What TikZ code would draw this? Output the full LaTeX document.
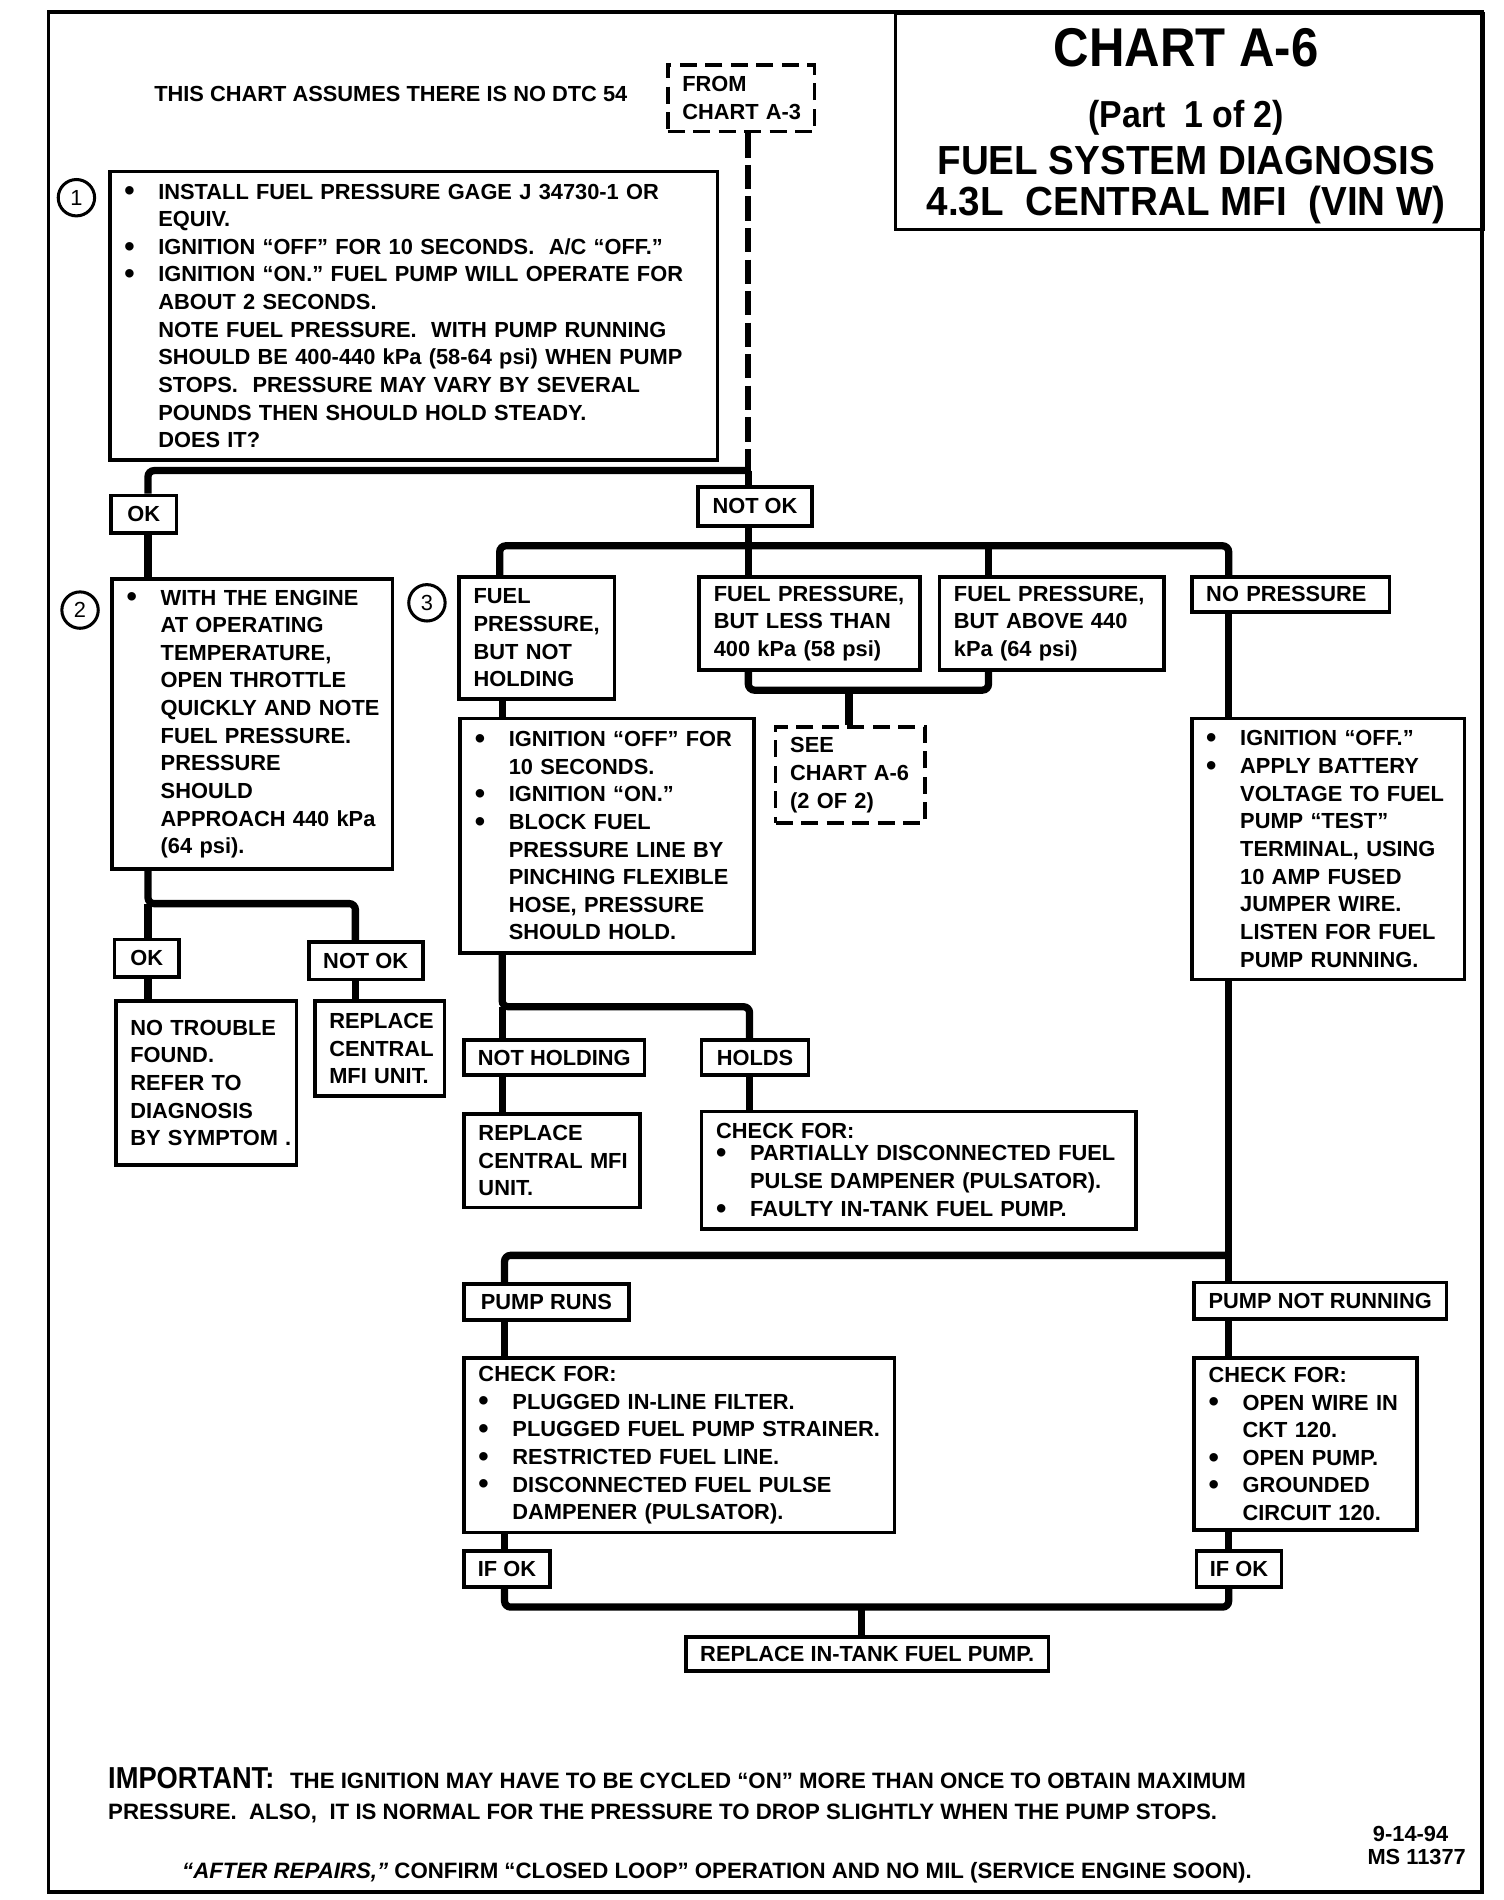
\documentclass[tikz,border=0pt]{standalone}
\usepackage{graphicx}
\usepackage{fontspec}
\setmainfont{Liberation Sans}
\newfontfamily\condfont{Liberation Sans}[FakeStretch=0.9]
\newfontfamily\condfontB{Liberation Sans}[FakeStretch=0.95]
\usetikzlibrary{calc}

\newcommand\bodyfont{\fontsize{18}{22.8}\selectfont\bfseries}
\newcommand\footfont{\fontsize{18.35}{22.8}\selectfont\bfseries}
\newcommand\bul{\makebox[28pt][l]{\raisebox{-1.5pt}{\scalebox{1.35}{\textbullet}}}}
\newcommand\ind{\hspace*{28pt}}
\newcommand\bl[1]{\mbox{\bul #1}}
\newcommand\cl[1]{\mbox{\ind #1}}
\newcommand\pl[1]{\mbox{#1}}

\tikzset{
  box/.style={draw, line width=3pt, fill=white, anchor=north west, inner xsep=12pt, inner ysep=0pt, align=left, font=\bodyfont},
  lbl/.style={draw, line width=3pt, fill=white, anchor=north west, inner sep=0pt, align=center, font=\bodyfont},
  dbox/.style={box, dash pattern=on 14pt off 7pt},
  conn/.style={line width=6pt, rounded corners=5pt},
  dconn/.style={line width=5pt, dash pattern=on 20pt off 6pt},
  circ/.style={draw, circle, line width=2.5pt, minimum size=30pt, inner sep=0pt, font=\fontsize{18}{20}\selectfont},
  txt/.style={anchor=base west, inner sep=0pt, font=\bodyfont},
  ttl/.style={anchor=base, inner sep=0pt},
}

\begin{document}
\begin{tikzpicture}[x=1pt, y=-1pt]
\useasboundingbox (0,0) rectangle (1240,1566.5);

% outer frame and title block
\draw[line width=3pt] (40,10) rectangle (1222,1560);
\node[draw, line width=2.5pt, anchor=north west, minimum width=485pt, minimum height=178pt, inner sep=0pt] (title) at (737,10) {};
\node[ttl, font=\condfont\bfseries\fontsize{45}{45}\selectfont] (t1) at (978,55) {CHART A-6};
\node[ttl, font=\condfont\bfseries\fontsize{31}{31}\selectfont] (t2) at (978,105) {(Part\ \ 1 of 2)};
\node[ttl, font=\condfontB\bfseries\fontsize{33.5}{34}\selectfont] (t3) at (978,144) {FUEL SYSTEM DIAGNOSIS};
\node[ttl, font=\condfontB\bfseries\fontsize{33.5}{34}\selectfont] (t4) at (978,178) {4.3L\ \ CENTRAL MFI\ \ (VIN W)};

\node[txt] (assume) at (127,84) {THIS CHART ASSUMES THERE IS NO DTC 54};
\node[dbox, text width=97pt, minimum height=55pt] (from) at (549,52) {\pl{FROM}\\\pl{CHART A-3}};

% step 1
\node[box, text width=477pt, minimum height=238pt] (b1) at (89,140) {%
\bl{INSTALL FUEL PRESSURE GAGE J 34730-1 OR}\\
\cl{EQUIV.}\\
\bl{IGNITION “OFF” FOR 10 SECONDS.\ \ A/C “OFF.”}\\
\bl{IGNITION “ON.” FUEL PUMP WILL OPERATE FOR}\\
\cl{ABOUT 2 SECONDS.}\\
\cl{NOTE FUEL PRESSURE.\ \ WITH PUMP RUNNING}\\
\cl{SHOULD BE 400-440 kPa (58-64 psi) WHEN PUMP}\\
\cl{STOPS.\ \ PRESSURE MAY VARY BY SEVERAL}\\
\cl{POUNDS THEN SHOULD HOLD STEADY.}\\
\cl{DOES IT?}};
\node[circ] (c1) at (63,163) {1};

\node[lbl, minimum width=54pt, minimum height=31pt] (ok1) at (90,407) {OK};
\node[lbl, minimum width=94pt, minimum height=32pt] (nok1) at (574,400) {NOT OK};

% step 2
\node[box, text width=207pt, minimum height=239pt] (b2) at (91,476) {%
\bl{WITH THE ENGINE}\\
\cl{AT OPERATING}\\
\cl{TEMPERATURE,}\\
\cl{OPEN THROTTLE}\\
\cl{QUICKLY AND NOTE}\\
\cl{FUEL PRESSURE.}\\
\cl{PRESSURE}\\
\cl{SHOULD}\\
\cl{APPROACH 440 kPa}\\
\cl{(64 psi).}};
\node[circ] (c2) at (66,503) {2};
\node[circ] (c3) at (352,497) {3};

\node[lbl, minimum width=53pt, minimum height=31pt] (ok2) at (93,773) {OK};
\node[lbl, minimum width=94pt, minimum height=31pt] (nok2) at (253,775) {NOT OK};
\node[box, text width=125pt, minimum height=135pt] (ntf) at (94,824) {%
\pl{NO TROUBLE}\\\pl{FOUND.}\\\pl{REFER TO}\\\pl{DIAGNOSIS}\\\pl{BY SYMPTOM .}};
\node[box, text width=83pt, minimum height=78pt] (rep1) at (258,824) {%
\pl{REPLACE}\\\pl{CENTRAL}\\\pl{MFI UNIT.}};

% step 3 branches
\node[box, text width=104pt, minimum height=101pt] (p1) at (377,474) {%
\pl{FUEL}\\\pl{PRESSURE,}\\\pl{BUT NOT}\\\pl{HOLDING}};
\node[box, text width=158pt, minimum height=77pt] (p2) at (575,474) {%
\pl{FUEL PRESSURE,}\\\pl{BUT LESS THAN}\\\pl{400 kPa (58 psi)}};
\node[box, text width=161pt, minimum height=77pt] (p3) at (773,474) {%
\pl{FUEL PRESSURE,}\\\pl{BUT ABOVE 440}\\\pl{kPa (64 psi)}};
\node[box, text width=139pt, minimum height=29pt] (p4) at (981,474) {\pl{NO PRESSURE}};
\node[dbox, text width=99pt, minimum height=79pt] (see) at (638,598) {%
\pl{SEE}\\\pl{CHART A-6}\\\pl{(2 OF 2)}};

\node[box, text width=218pt, minimum height=193pt] (ign) at (378,591) {%
\bl{IGNITION “OFF” FOR}\\
\cl{10 SECONDS.}\\
\bl{IGNITION “ON.”}\\
\bl{BLOCK FUEL}\\
\cl{PRESSURE LINE BY}\\
\cl{PINCHING FLEXIBLE}\\
\cl{HOSE, PRESSURE}\\
\cl{SHOULD HOLD.}};

\node[lbl, minimum width=149pt, minimum height=29pt] (nh) at (381,856) {NOT HOLDING};
\node[lbl, minimum width=88pt, minimum height=29pt] (holds) at (577,856) {HOLDS};
\node[box, text width=121pt, minimum height=77pt] (rep2) at (381,917) {%
\pl{REPLACE}\\\pl{CENTRAL MFI}\\\pl{UNIT.}};
\node[box, text width=334pt, minimum height=97pt] (chk1) at (577,915) {%
\pl{CHECK FOR:}\\[-4pt]
\bl{PARTIALLY DISCONNECTED FUEL}\\
\cl{PULSE DAMPENER (PULSATOR).}\\
\bl{FAULTY IN-TANK FUEL PUMP.}};

\node[box, text width=201pt, minimum height=215pt] (ign2) at (981,591) {%
\bl{IGNITION “OFF.”}\\
\bl{APPLY BATTERY}\\
\cl{VOLTAGE TO FUEL}\\
\cl{PUMP “TEST”}\\
\cl{TERMINAL, USING}\\
\cl{10 AMP FUSED}\\
\cl{JUMPER WIRE.}\\
\cl{LISTEN FOR FUEL}\\
\cl{PUMP RUNNING.}};

\node[lbl, minimum width=136pt, minimum height=30pt] (pr) at (381,1057) {PUMP RUNS};
\node[lbl, minimum width=208pt, minimum height=30pt] (pnr) at (983,1056) {PUMP NOT RUNNING};
\node[box, text width=331pt, minimum height=144pt] (chk2) at (381,1118) {%
\pl{CHECK FOR:}\\
\bl{PLUGGED IN-LINE FILTER.}\\
\bl{PLUGGED FUEL PUMP STRAINER.}\\
\bl{RESTRICTED FUEL LINE.}\\
\bl{DISCONNECTED FUEL PULSE}\\
\cl{DAMPENER (PULSATOR).}};
\node[box, text width=160pt, minimum height=142pt] (chk3) at (983,1118) {%
\pl{CHECK FOR:}\\
\bl{OPEN WIRE IN}\\
\cl{CKT 120.}\\
\bl{OPEN PUMP.}\\
\bl{GROUNDED}\\
\cl{CIRCUIT 120.}};
\node[lbl, minimum width=71pt, minimum height=30pt] (ifok1) at (381,1277) {IF OK};
\node[lbl, minimum width=70pt, minimum height=30pt] (ifok2) at (985,1277) {IF OK};
\node[lbl, minimum width=299pt, minimum height=28pt] (rep3) at (564,1348) {REPLACE IN-TANK FUEL PUMP.};

% junction coordinates
\coordinate (jR) at (617,388);
\coordinate (jL) at (122,388);
\coordinate (h2a) at (412,450);
\coordinate (h2c) at (815,450);
\coordinate (h2d) at (1013,450);
\coordinate (m1) at (700,569);
\coordinate (v414) at (414,830);
\coordinate (v618) at (618,830);
\coordinate (w1) at (122,745);
\coordinate (w2) at (293,745);
\coordinate (k1) at (416,1035);
\coordinate (k2) at (1013,1035);
\coordinate (q1) at (416,1325);
\coordinate (q2) at (1013,1325);
\coordinate (q3) at (710,1325);

% connectors
\draw[dconn] (from.south -| jR) -- (jR);
\draw[conn] (jR) -- (jL) -- (ok1.north -| jL);
\draw[conn] (jR) -- (nok1.north -| jR);
\draw[conn] (ok1.south -| jL) -- (b2.north -| jL);
\draw[conn] (p1.north -| h2a) -- (h2a) -- (h2d) -- (p4.north -| h2d);
\draw[conn] (nok1.south -| jR) -- (p2.north -| jR);
\draw[conn] (h2c) -- (p3.north -| h2c);
\draw[conn] (p2.south -| jR) -- (jR |- m1) -- (h2c |- m1) -- (p3.south -| h2c);
\draw[conn] (m1) -- (see.north -| m1);
\draw[conn] (p1.south -| v414) -- (ign.north -| v414);
\draw[conn] (ign.south -| v414) -- (v414) -- (v618) -- (holds.north -| v618);
\draw[conn] (v414) -- (nh.north -| v414);
\draw[conn] (nh.south -| v414) -- (rep2.north -| v414);
\draw[conn] (holds.south -| v618) -- (chk1.north -| v618);
\draw[conn] (b2.south -| w1) -- (w1) -- (w2) -- (nok2.north -| w2);
\draw[conn] (w1) -- (ok2.north -| w1);
\draw[conn] (ok2.south -| w1) -- (ntf.north -| w1);
\draw[conn] (nok2.south -| w2) -- (rep1.north -| w2);
\draw[conn] (p4.south -| h2d) -- (ign2.north -| h2d);
\draw[conn] (pr.north -| k1) -- (k1) -- (k2);
\draw[conn] (ign2.south -| k2) -- (pnr.north -| k2);
\draw[conn] (pr.south -| k1) -- (chk2.north -| k1);
\draw[conn] (pnr.south -| k2) -- (chk3.north -| k2);
\draw[conn] (chk2.south -| k1) -- (ifok1.north -| k1);
\draw[conn] (chk3.south -| k2) -- (ifok2.north -| k2);
\draw[conn] (ifok1.south -| q1) -- (q1) -- (q2) -- (ifok2.south -| q2);
\draw[conn] (q3) -- (rep3.north -| q3);

% footer
\node[anchor=base west, inner sep=0pt, font=\condfont\bfseries\fontsize{25}{25}\selectfont] (impA) at (89,1474.5) {IMPORTANT:};
\node[txt, font=\footfont] (impB) at (239,1474.5) {THE IGNITION MAY HAVE TO BE CYCLED “ON” MORE THAN ONCE TO OBTAIN MAXIMUM};
\node[txt, font=\footfont] (impC) at (89,1500) {PRESSURE.\ \ ALSO,\ \ IT IS NORMAL FOR THE PRESSURE TO DROP SLIGHTLY WHEN THE PUMP STOPS.};
\node[txt, font=\footfont] (after) at (150,1549) {\textit{“AFTER REPAIRS,”} CONFIRM “CLOSED LOOP” OPERATION AND NO MIL (SERVICE ENGINE SOON).};
\node[ttl, font=\bodyfont] (date1) at (1163,1518) {9-14-94};
\node[ttl, font=\bodyfont] (date2) at (1168,1537) {MS 11377};
\end{tikzpicture}
\end{document}
